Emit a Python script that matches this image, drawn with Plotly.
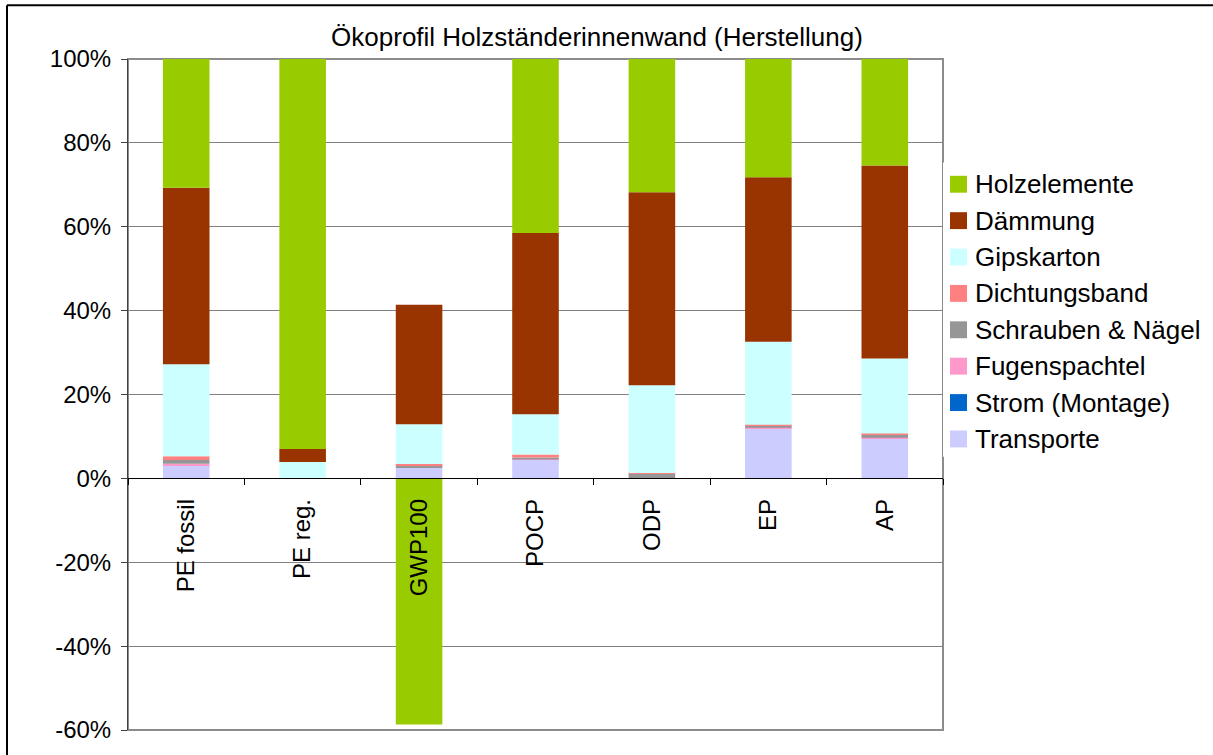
import plotly.graph_objects as go

# Impact categories on the x axis
categories = ["PE fossil", "PE reg.", "GWP100", "POCP", "ODP", "EP", "AP"]

# Share of each building component per impact category, in percent
transporte = [3.1, 0.0, 2.5, 4.4, 0.0, 12.0, 9.4]
strom_montage = [0.0, 0.0, 0.0, 0.0, 0.0, 0.0, 0.0]
fugenspachtel = [0.4, 0.0, 0.0, 0.1, 0.0, 0.1, 0.3]
schrauben_naegel = [0.9, 0.0, 0.6, 0.5, 1.1, 0.5, 0.7]
dichtungsband = [0.9, 0.0, 0.3, 0.7, 0.2, 0.2, 0.3]
gipskarton = [21.9, 3.9, 9.5, 9.6, 20.9, 19.8, 17.9]
daemmung = [42.1, 3.1, 28.5, 43.2, 46.0, 39.2, 46.0]
holzelemente = [30.7, 93.0, -58.7, 41.5, 31.8, 28.2, 25.4]

y_ticks = [-60, -40, -20, 0, 20, 40, 60, 80, 100]

# Stacking order from bottom to top
series = [
    ("Transporte", transporte, "#CCCCFF"),
    ("Strom (Montage)", strom_montage, "#0066CC"),
    ("Fugenspachtel", fugenspachtel, "#FF99CC"),
    ("Schrauben & Nägel", schrauben_naegel, "#969696"),
    ("Dichtungsband", dichtungsband, "#FF8080"),
    ("Gipskarton", gipskarton, "#CCFFFF"),
    ("Dämmung", daemmung, "#993300"),
    ("Holzelemente", holzelemente, "#99CC00"),
]

FONT = "Liberation Sans, Arial, sans-serif"

fig = go.Figure()
for name, vals, color in series:
    fig.add_trace(go.Bar(
        x=categories, y=vals, name=name,
        marker=dict(color=color, line=dict(width=0)),
    ))

W, H = 1213, 755
L, R, T, B = 128, 270, 59, 21
plot_w = W - L - R
plot_h = H - T - B


def px_x(x):
    return (x - L) / plot_w


def px_y(y):
    return (H - B - y) / plot_h


fig.update_layout(
    width=W, height=H,
    margin=dict(l=L, r=R, t=T, b=B, pad=0),
    paper_bgcolor="white",
    plot_bgcolor="white",
    barmode="relative",
    bargap=0.6,
    showlegend=False,
    font=dict(family=FONT, size=24, color="black"),
    title=dict(
        text="Ökoprofil Holzständerinnenwand (Herstellung)",
        x=597 / W, xanchor="center",
        y=1 - 37 / H, yanchor="middle",
        font=dict(family=FONT, size=26, color="black"),
    ),
)

fig.update_xaxes(
    type="category",
    anchor="free",
    position=60 / 160,
    showline=True, linecolor="black", linewidth=1,
    showgrid=False,
    ticks="outside", ticklen=6, tickcolor="black", tickwidth=1,
    tickson="boundaries",
    tickangle=-90,
    ticklabelstandoff=10,
    tickfont=dict(family=FONT, size=24, color="black"),
    zeroline=False,
)

fig.update_yaxes(
    range=[-60, 100],
    tickvals=y_ticks,
    ticktext=[f"{v}%" for v in y_ticks],
    showline=True, linecolor="#404040", linewidth=1,
    showgrid=True, gridcolor="#808080", gridwidth=1,
    zeroline=False,
    ticks="outside", ticklen=6, tickcolor="#404040", tickwidth=1,
    ticklabelstandoff=5,
    tickfont=dict(family=FONT, size=24, color="black"),
)

# Plot area frame
fig.add_shape(type="rect", xref="paper", yref="paper", x0=0, x1=1, y0=0, y1=1,
              line=dict(color="#8C8C8C", width=2), layer="below")

# Outer chart frame: top and left edges (the rest runs off the page)
fig.add_shape(type="line", xref="paper", yref="paper",
              x0=px_x(7), x1=px_x(W + 40), y0=px_y(5), y1=px_y(5),
              line=dict(color="black", width=2))
fig.add_shape(type="line", xref="paper", yref="paper",
              x0=px_x(7), x1=px_x(7), y0=px_y(5), y1=px_y(H + 40),
              line=dict(color="black", width=2))

# Legend: white box over the plot edge, square swatches and labels
fig.add_shape(type="rect", xref="paper", yref="paper",
              x0=px_x(943), x1=px_x(W + 10), y0=px_y(459), y1=px_y(163),
              fillcolor="white", line=dict(width=0))
row0, row_step = 185, 36.6
for i, (name, vals, color) in enumerate(reversed(series)):
    yc = row0 + i * row_step
    fig.add_shape(type="rect", xref="paper", yref="paper",
                  x0=px_x(950), x1=px_x(967), y0=px_y(yc + 8.5), y1=px_y(yc - 8.5),
                  fillcolor=color, line=dict(width=0))
    fig.add_annotation(
        xref="paper", yref="paper", x=px_x(973), y=px_y(yc),
        xanchor="left", yanchor="middle", showarrow=False,
        text=name, font=dict(family=FONT, size=26, color="black"),
    )

fig.write_html("out.html")
